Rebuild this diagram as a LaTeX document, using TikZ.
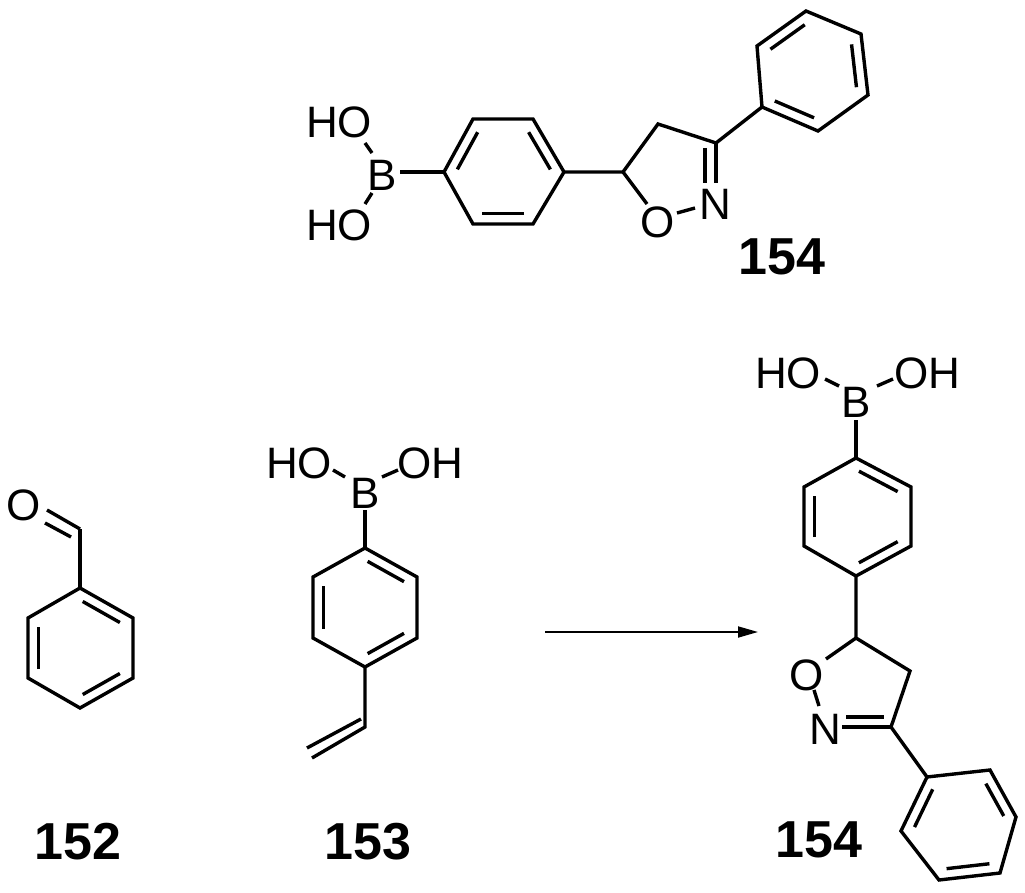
\documentclass[tikz,border=0pt]{standalone}
\usepackage{fontspec}
\setmainfont{Liberation Sans}
\usetikzlibrary{calc,arrows.meta}
\newcommand\ib[3]{\draw[shorten <=3pt,shorten >=3pt] ($(#1)!0.2!(#3)$) -- ($(#2)!0.2!(#3)$);}
\begin{document}
\begin{tikzpicture}[x=1pt,y=-1pt,line width=3.4pt,line cap=butt,line join=miter,
  atom/.style={font=\fontsize{44}{44}\selectfont,inner sep=0pt},
  lbl/.style={font=\fontsize{52}{52}\selectfont\bfseries,inner sep=0pt}]
\useasboundingbox (0,0) rectangle (1025,893);
% ---------- top 154 ----------
\node[atom] (tHO1) at (339,122) {HO};
\node[atom] (tHO2) at (339,225) {HO};
\node[atom] (tB) at (382,175) {B};
\coordinate (a1) at (365,143); \coordinate (a2) at (372,153);
\coordinate (a3) at (372,193); \coordinate (a4) at (365,204);
\draw (a1)--(a2); \draw (a3)--(a4);
\coordinate (tb) at (400,172);
\coordinate (r1) at (444,172); \coordinate (r2) at (473,119); \coordinate (r3) at (533,119);
\coordinate (r4) at (564,172); \coordinate (r5) at (533,224); \coordinate (r6) at (473,224);
\coordinate (rc) at (503.5,172);
\draw (tb)--(r1);
\draw (r1)--(r2)--(r3)--(r4)--(r5)--(r6)--cycle;
\ib{r1}{r2}{rc} \ib{r3}{r4}{rc} \ib{r5}{r6}{rc}
\coordinate (t5) at (623,172); \coordinate (t4) at (658,124); \coordinate (t3) at (716,143);
\draw (r4)--(t5)--(t4)--(t3);
\node[atom] (tO) at (658,222) {O};
\node[atom] (tN) at (715,204) {N};
\coordinate (o1) at (647,204); \coordinate (o2) at (677,213); \coordinate (o3) at (695,208);
\draw (t5)--(o1); \draw (o2)--(o3);
\coordinate (n1) at (716,183); \coordinate (n2) at (705,148); \coordinate (n3) at (705,183);
\draw (t3)--(n1); \draw (n2)--(n3);
\coordinate (q1) at (762,107); \coordinate (q2) at (757,46); \coordinate (q3) at (806,11);
\coordinate (q4) at (861,34); \coordinate (q5) at (868,95); \coordinate (q6) at (818,131);
\coordinate (qc) at (812,71);
\draw (t3)--(q1);
\draw (q1)--(q2)--(q3)--(q4)--(q5)--(q6)--cycle;
\ib{q2}{q3}{qc} \ib{q4}{q5}{qc} \ib{q6}{q1}{qc}
\node[lbl] (L154a) at (782,257) {154};
% ---------- 152 ----------
\node[atom] (bO) at (24,505) {O};
\coordinate (bc) at (80,529);
\coordinate (bo1) at (47,510); \coordinate (bo2) at (71,537); \coordinate (bo3) at (45,523);
\draw (bc)--(bo1); \draw (bo2)--(bo3);
\coordinate (b1) at (80,588); \coordinate (b2) at (133,618); \coordinate (b3) at (133,678);
\coordinate (b4) at (80,708); \coordinate (b5) at (28,678); \coordinate (b6) at (28,618);
\coordinate (bcc) at (80.5,648);
\draw (bc)--(b1);
\draw (b1)--(b2)--(b3)--(b4)--(b5)--(b6)--cycle;
\ib{b1}{b2}{bcc} \ib{b3}{b4}{bcc} \ib{b5}{b6}{bcc}
\node[lbl] (L152) at (78,842) {152};
% ---------- 153 ----------
\node[atom] (vHO) at (299,463) {HO};
\node[atom] (vOH) at (430,463) {OH};
\node[atom] (vB) at (365,493) {B};
\coordinate (v1) at (333,470); \coordinate (v2) at (345,477);
\coordinate (v3) at (382,477); \coordinate (v4) at (398,470);
\draw (v1)--(v2); \draw (v3)--(v4);
\coordinate (vb) at (365,510);
\coordinate (s1) at (365,548); \coordinate (s2) at (417,577); \coordinate (s3) at (417,638);
\coordinate (s4) at (365,667); \coordinate (s5) at (313,638); \coordinate (s6) at (313,577);
\coordinate (sc) at (365,607.5);
\draw (vb)--(s1);
\draw (s1)--(s2)--(s3)--(s4)--(s5)--(s6)--cycle;
\ib{s1}{s2}{sc} \ib{s3}{s4}{sc} \ib{s5}{s6}{sc}
\coordinate (w1) at (365,727); \coordinate (w2) at (312,758);
\coordinate (w3) at (307,748); \coordinate (w4) at (361,719);
\draw (s4)--(w1)--(w2); \draw (w3)--(w4);
\node[lbl] (L153) at (368,842) {153};
% ---------- arrow ----------
\coordinate (ar1) at (545,632); \coordinate (ar2) at (758,632);
\draw[line width=1.8pt,-{Triangle[length=20pt,width=11pt]}] (ar1)--(ar2);
% ---------- right 154 ----------
\node[atom] (uHO) at (788,373) {HO};
\node[atom] (uOH) at (927,373) {OH};
\node[atom] (uB) at (856,402) {B};
\coordinate (u1) at (825,379); \coordinate (u2) at (839,386);
\coordinate (u3) at (877,386); \coordinate (u4) at (893,379);
\draw (u1)--(u2); \draw (u3)--(u4);
\coordinate (ub) at (856,420);
\coordinate (p1) at (856,458); \coordinate (p2) at (911,487); \coordinate (p3) at (911,546);
\coordinate (p4) at (856,576); \coordinate (p5) at (804,546); \coordinate (p6) at (804,487);
\coordinate (pc) at (857.5,517);
\draw (ub)--(p1);
\draw (p1)--(p2)--(p3)--(p4)--(p5)--(p6)--cycle;
\ib{p1}{p2}{pc} \ib{p3}{p4}{pc} \ib{p5}{p6}{pc}
\coordinate (c5) at (856,638); \coordinate (c4) at (910,671); \coordinate (c3) at (891,727);
\draw (p4)--(c5)--(c4)--(c3);
\node[atom] (uO) at (807,675) {O};
\node[atom] (uN) at (825,729) {N};
\coordinate (e1) at (826,659); \coordinate (e2) at (814,690); \coordinate (e3) at (819,706);
\draw (c5)--(e1); \draw (e2)--(e3);
\coordinate (m1) at (842,727); \coordinate (m2) at (846,717); \coordinate (m3) at (884,717);
\draw (m1)--(c3); \draw (m2)--(m3);
\coordinate (h1) at (927,777); \coordinate (h2) at (990,770); \coordinate (h3) at (1016,817);
\coordinate (h4) at (1000,873); \coordinate (h5) at (939,880); \coordinate (h6) at (901,831);
\coordinate (hc) at (962,825);
\draw (c3)--(h1);
\draw (h1)--(h2)--(h3)--(h4)--(h5)--(h6)--cycle;
\ib{h2}{h3}{hc} \ib{h4}{h5}{hc} \ib{h6}{h1}{hc}
\node[lbl] (L154b) at (819,840) {154};
\end{tikzpicture}
\end{document}
